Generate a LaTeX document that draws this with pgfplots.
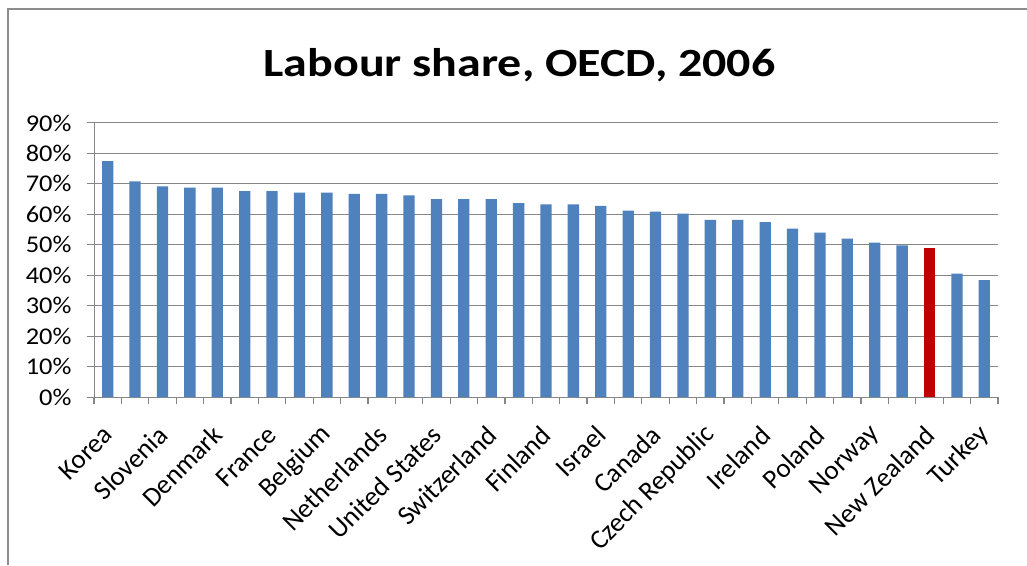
\documentclass[border=0pt]{standalone}
\usepackage{pgfplots}
\pgfplotsset{compat=1.18}
\usepackage{pgfplotstable}
\usepackage{fontspec}
\setmainfont{Carlito}
\newfontfamily\tickfont[FakeStretch=1.1]{Carlito}
\newfontfamily\labfont{Carlito}
\newfontfamily\titlefont[FakeStretch=1.2]{Carlito}
\definecolor{barblue}{HTML}{4F81BD}
\definecolor{barred}{HTML}{C00000}
\definecolor{gridgray}{HTML}{868686}
\definecolor{framegray}{HTML}{8C8C8C}

\pgfplotstableread{
x y
0 77.5
1 70.8
2 69.2
3 68.8
4 68.8
5 67.6
6 67.6
7 67.1
8 67.1
9 66.7
10 66.7
11 66.2
12 65.0
13 65.0
14 65.0
15 63.7
16 63.3
17 63.3
18 62.8
19 61.2
20 60.9
21 60.2
22 58.2
23 58.2
24 57.4
25 55.3
26 54.0
27 52.0
28 50.7
29 49.8
31 40.5
32 38.4
}\bluedata

\pgfplotstableread{
x y
30 49.1
}\reddata

\begin{document}
\begin{tikzpicture}
\useasboundingbox (0pt,0pt) rectangle (1027pt,565pt);
\fill[white] (0pt,0pt) rectangle (1027pt,565pt);
\draw[framegray, line width=2pt] (8pt,0pt) -- (8pt,556pt) -- (1027pt,556pt);
\node[anchor=base, font=\titlefont\bfseries\fontsize{40}{48}\selectfont] at (519.5pt,488pt) {Labour share, OECD, 2006};
\begin{axis}[
  at={(94pt,168pt)}, anchor=south west,
  scale only axis, width=904pt, height=274pt,
  xmin=-0.5, xmax=32.5, ymin=0, ymax=90,
  clip=false,
  ybar, bar width=11.3pt,
  axis x line*=bottom, axis y line*=left,
  axis line style={gridgray, line width=1pt},
  ymajorgrids, grid style={gridgray, line width=1pt},
  tick align=outside, major tick length=7pt,
  tick style={gridgray, line width=1pt},
  ytick={0,10,...,90},
  yticklabels={0\%,10\%,20\%,30\%,40\%,50\%,60\%,70\%,80\%,90\%},
  yticklabel style={font=\tickfont\fontsize{24}{28}\selectfont, text=black, xshift=-12pt},
  xtick={0,2,...,32},
  xtick style={draw=none},
  xticklabels={Korea,Slovenia,Denmark,France,Belgium,Netherlands,United States,Switzerland,Finland,Israel,Canada,Czech Republic,Ireland,Poland,Norway,New Zealand,Turkey},
  xticklabel style={rotate=45, anchor=east, font=\labfont\fontsize{27}{30}\selectfont, text=black, xshift=-15pt, yshift=-19pt},
]
\addplot[fill=barblue, draw=none, bar shift=0pt] table[x=x, y=y] {\bluedata};
\addplot[fill=barred, draw=none, bar shift=0pt] table[x=x, y=y] {\reddata};
\pgfplotsinvokeforeach{-0.5,0.5,...,32.5}{
  \draw[gridgray, line width=1.2pt] (axis cs:#1,0) -- ++(0pt,-7pt);
}
\end{axis}
\end{tikzpicture}
\end{document}
